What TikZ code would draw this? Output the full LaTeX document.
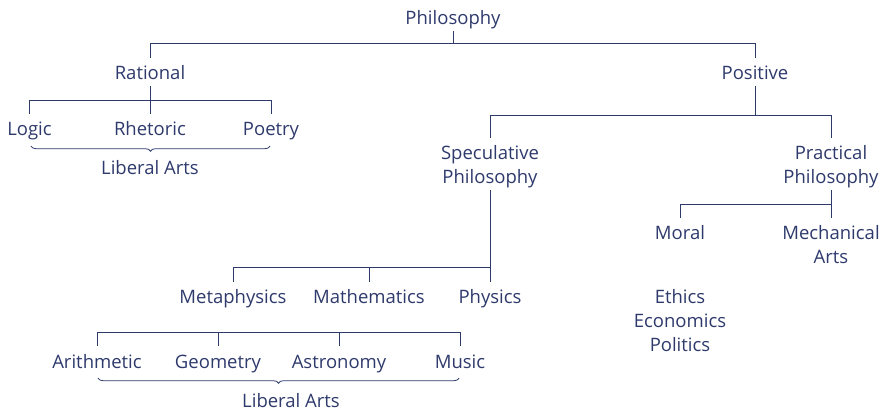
\documentclass[tikz,border=0pt]{standalone}
\usepackage{fontspec}
\setmainfont{Open Sans}
\usetikzlibrary{decorations.pathreplacing,calc}
\definecolor{ink}{HTML}{2E3A6C}
\begin{document}
\begin{tikzpicture}[x=1pt,y=-1pt,
  lbl/.style={anchor=base, inner xsep=0pt, inner ysep=3pt, text height=19pt, text depth=3pt,
              font=\fontsize{18.5}{24}\selectfont, text=ink},
  lbltwo/.style={lbl, align=center, text height=43pt},
  lblthree/.style={lbl, align=center, text height=67pt},
  conn/.style={draw=ink, line width=0.9pt},
  brc/.style={draw=ink, line width=0.8pt, decorate, decoration={brace, mirror, amplitude=5pt}}]
\useasboundingbox (0,0) rectangle (883,411);

\coordinate (bA) at (0,43);
\coordinate (bB) at (0,100);
\coordinate (bC) at (0,115);
\coordinate (bD) at (0,267);
\coordinate (bE) at (0,204);
\coordinate (bF) at (0,332);

\node[lbl] (phil) at (453,25) {Philosophy};
\node[lbl] (rat) at (150,80) {Rational};
\node[lbl] (pos) at (755,80) {Positive};
\node[lbl] (logic) at (29.5,136) {Logic};
\node[lbl] (rhet) at (150,136) {Rhetoric};
\node[lbl] (poet) at (271,136) {Poetry};
\node[lbl] (lib1) at (150,175) {Liberal Arts};
\node[lbltwo] (spec) at (490,184) {Speculative\\Philosophy};
\node[lbltwo] (prac) at (831,184) {Practical\\Philosophy};
\node[lbl] (meta) at (233,304) {Metaphysics};
\node[lbl] (math) at (369,304) {Mathematics};
\node[lbl] (phys) at (490,304) {Physics};
\node[lbl] (moral) at (680,240) {Moral};
\node[lbltwo] (mech) at (831,264) {Mechanical\\Arts};
\node[lblthree] (eth) at (680,352) {Ethics\\Economics\\Politics};
\node[lbl] (arith) at (97,368) {Arithmetic};
\node[lbl] (geom) at (218,368) {Geometry};
\node[lbl] (astr) at (339,368) {Astronomy};
\node[lbl] (music) at (460,368) {Music};
\node[lbl] (lib2) at (291,407) {Liberal Arts};

\draw[conn] (phil.south) -- (phil.south |- bA);
\draw[conn] (rat.north) |- (pos.north |- bA) -- (pos.north);
\draw[conn] (logic.north) |- (poet.north |- bB) -- (poet.north);
\draw[conn] (rhet.north) -- (rat.south);
\draw[conn] (pos.south) -- (pos.south |- bC);
\draw[conn] (spec.north) |- (prac.north |- bC) -- (prac.north);
\draw[conn] (spec.south) -- (phys.north);
\draw[conn] (meta.north) |- (phys.north |- bD);
\draw[conn] (math.north) -- (math.north |- bD);
\draw[conn] (prac.south) -- (mech.north);
\draw[conn] (moral.north) |- (prac.south |- bE);
\draw[conn] (arith.north) |- (music.north |- bF) -- (music.north);
\draw[conn] (geom.north) -- (geom.north |- bF);
\draw[conn] (astr.north) -- (astr.north |- bF);

\draw[brc] ($(logic.south)+(1.5,4)$) -- ($(poet.south)+(-1,4)$);
\draw[brc] ($(arith.south)+(1,4)$) -- ($(music.south)+(-1,4)$);
\end{tikzpicture}
\end{document}
